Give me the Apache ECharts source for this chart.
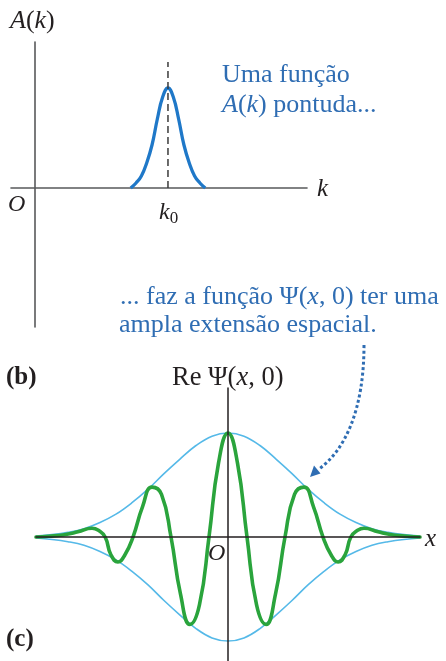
<!DOCTYPE html>
<html>
<head>
<meta charset="utf-8">
<script src="https://cdn.jsdelivr.net/npm/echarts@6/dist/echarts.min.js"></script>
<style>
  html, body { margin: 0; padding: 0; background: #fff; }
  #chart { width: 446px; height: 661px; }
</style>
</head>
<body>
<div id="chart"></div>
<script>
// (b) A narrow spectrum A(k) centred on k0 = 10
const kValues = [7.2, 7.6, 8.0, 8.4, 8.8, 9.2, 9.6, 10, 10.4, 10.8, 11.2, 11.6, 12.0, 12.4, 12.8];
const aValues = [0, 0.05, 0.12, 0.25, 0.43, 0.69, 0.91, 1.0, 0.91, 0.69, 0.43, 0.25, 0.12, 0.05, 0];
const k0 = 10;
const k0MarkerTop = 1.26;

// (c) Re Psi(x, 0): oscillation under a Gaussian envelope
const xWave = [-6, -5.6, -5.16, -4.69, -4.25, -4.05, -3.84, -3.66, -3.44, -3.22, -2.969,
  -2.672, -2.375, -2.078, -1.781, -1.484, -1.188, -0.891, -0.594, -0.297,
  0,
  0.297, 0.594, 0.891, 1.188, 1.484, 1.781, 2.078, 2.375, 2.672,
  2.969, 3.22, 3.44, 3.66, 3.84, 4.05, 4.25, 4.69, 5.16, 5.6, 6];
const reWave = [0, 0.008, 0.02, 0.05, 0.085, 0.065, 0, -0.17, -0.24, -0.17, 0,
  0.29, 0.48, 0.41, 0, -0.55, -0.84, -0.65, 0, 0.71,
  1.0,
  0.71, 0, -0.65, -0.84, -0.55, 0, 0.41, 0.48, 0.29,
  0, -0.17, -0.24, -0.17, 0, 0.065, 0.085, 0.05, 0.02, 0.008, 0];
const xEnv = [-6, -5.5, -5, -4.5, -4, -3.5, -3, -2.5, -2, -1.5, -1, -0.5, 0,
  0.5, 1, 1.5, 2, 2.5, 3, 3.5, 4, 4.5, 5, 5.5, 6];
const envUpper = [0.01, 0.023, 0.045, 0.08, 0.14, 0.22, 0.33, 0.46, 0.61, 0.75, 0.88, 0.97, 1.0,
  0.97, 0.88, 0.75, 0.61, 0.46, 0.33, 0.22, 0.14, 0.08, 0.045, 0.023, 0.01];
const envLower = [-0.01, -0.023, -0.045, -0.08, -0.14, -0.22, -0.33, -0.46, -0.61, -0.75, -0.88, -0.97, -1.0,
  -0.97, -0.88, -0.75, -0.61, -0.46, -0.33, -0.22, -0.14, -0.08, -0.045, -0.023, -0.01];

const pair = (xs, ys) => xs.map((x, i) => [x, ys[i]]);

const SERIF = '"Liberation Serif", "DejaVu Serif", serif';
const BLUE_TXT = '#2f6db3';
const INK = '#231f20';

function axisPair(gridIndex, color, width, zTop) {
  const line = { show: true, onZero: true, lineStyle: { color: color, width: width } };
  return {
    x: { type: 'value', gridIndex: gridIndex, axisLine: line, axisTick: { show: false },
         axisLabel: { show: false }, splitLine: { show: false }, z: zTop },
    y: { type: 'value', gridIndex: gridIndex, axisLine: line, axisTick: { show: false },
         axisLabel: { show: false }, splitLine: { show: false }, z: zTop }
  };
}

const panelB = axisPair(0, '#58595b', 1.6, 1);
const panelC = axisPair(1, '#231f20', 1.5, 5);
panelB.x.min = -1.8; panelB.x.max = 20.45;
panelB.y.min = -1.39; panelB.y.max = 1.46;
panelC.x.min = -6; panelC.x.max = 6;
panelC.y.min = -1.192; panelC.y.max = 1.433;

function txt(x, y, text, size, fill, opts) {
  const rich = {
    i: { fontFamily: SERIF, fontSize: size, fontStyle: 'italic', fill: fill },
    n: { fontFamily: SERIF, fontSize: size, fill: fill },
    b: { fontFamily: SERIF, fontSize: size, fontWeight: 'bold', fill: fill },
    s: { fontFamily: SERIF, fontSize: Math.round(size * 0.72), fill: fill, padding: [size * 0.45, 0, 0, 0] }
  };
  return Object.assign({
    type: 'text', x: x, y: y, z: 10,
    style: {
      text: text, rich: rich, fontFamily: SERIF, fontSize: size, fill: fill,
      align: 'left', verticalAlign: 'middle'
    }
  }, opts || {});
}

const chart = echarts.init(document.getElementById('chart'), null, { renderer: 'canvas' });
chart.setOption({
  animation: false,
  backgroundColor: '#ffffff',
  grid: [
    { left: 11, top: 42, width: 296, height: 285 },
    { left: 36, top: 388, width: 384, height: 273 }
  ],
  xAxis: [panelB.x, panelC.x],
  yAxis: [panelB.y, panelC.y],
  series: [
    {
      type: 'line', xAxisIndex: 0, yAxisIndex: 0, data: pair(kValues, aValues),
      smooth: 0.45, symbol: 'none', lineStyle: { color: '#1f78c8', width: 3.3 }, z: 3
    },
    {
      type: 'line', xAxisIndex: 0, yAxisIndex: 0, data: [[k0, 0], [k0, k0MarkerTop]],
      symbol: 'none', lineStyle: { color: '#3a3a3a', width: 1.5, type: [7, 4] }, z: 4
    },
    {
      type: 'line', xAxisIndex: 1, yAxisIndex: 1, data: pair(xEnv, envUpper),
      smooth: 0.4, symbol: 'none', lineStyle: { color: '#55b9e8', width: 1.6 }, z: 2
    },
    {
      type: 'line', xAxisIndex: 1, yAxisIndex: 1, data: pair(xEnv, envLower),
      smooth: 0.4, symbol: 'none', lineStyle: { color: '#55b9e8', width: 1.6 }, z: 2
    },
    {
      type: 'line', xAxisIndex: 1, yAxisIndex: 1, data: pair(xWave, reWave),
      smooth: 0.5, symbol: 'none', lineStyle: { color: '#2aa43c', width: 3.6, cap: 'round', join: 'round' }, z: 3
    }
  ],
  graphic: [
    txt(10, 21, '{i|A}{n|(}{i|k}{n|)}', 26, INK),
    txt(8, 205, '{i|O}', 24, INK),
    txt(317, 189, '{i|k}', 25, INK),
    txt(159, 213, '{i|k}{s|0}', 24, INK),
    txt(222, 75, '{n|Uma função}', 26, BLUE_TXT),
    txt(222, 105, '{i|A}{n|(}{i|k}{n|) pontuda...}', 26, BLUE_TXT),
    txt(120, 297, '{n|... faz a função Ψ(}{i|x}{n|, 0) ter uma}', 26, BLUE_TXT),
    txt(119, 325, '{n|ampla extensão espacial.}', 26, BLUE_TXT),
    txt(6, 378, '{b|(b)}', 25, INK),
    txt(172, 378, '{n|Re Ψ(}{i|x}{n|, 0)}', 26.5, INK),
    txt(208, 554, '{i|O}', 24, INK),
    txt(425, 539, '{i|x}', 25, INK),
    txt(6, 640, '{b|(c)}', 25, INK),
    {
      type: 'bezierCurve', z: 10,
      shape: { x1: 364, y1: 345, cpx1: 364, cpy1: 410, cpx2: 345, cpy2: 450, x2: 319, y2: 469 },
      style: { stroke: '#2f6db3', lineWidth: 3, lineDash: [3, 2.5], fill: null }
    },
    {
      type: 'polygon', z: 10,
      shape: { points: [[310, 477], [320.5, 473.5], [314, 465.5]] },
      style: { fill: '#2f6db3' }
    }
  ]
});
</script>
</body>
</html>
